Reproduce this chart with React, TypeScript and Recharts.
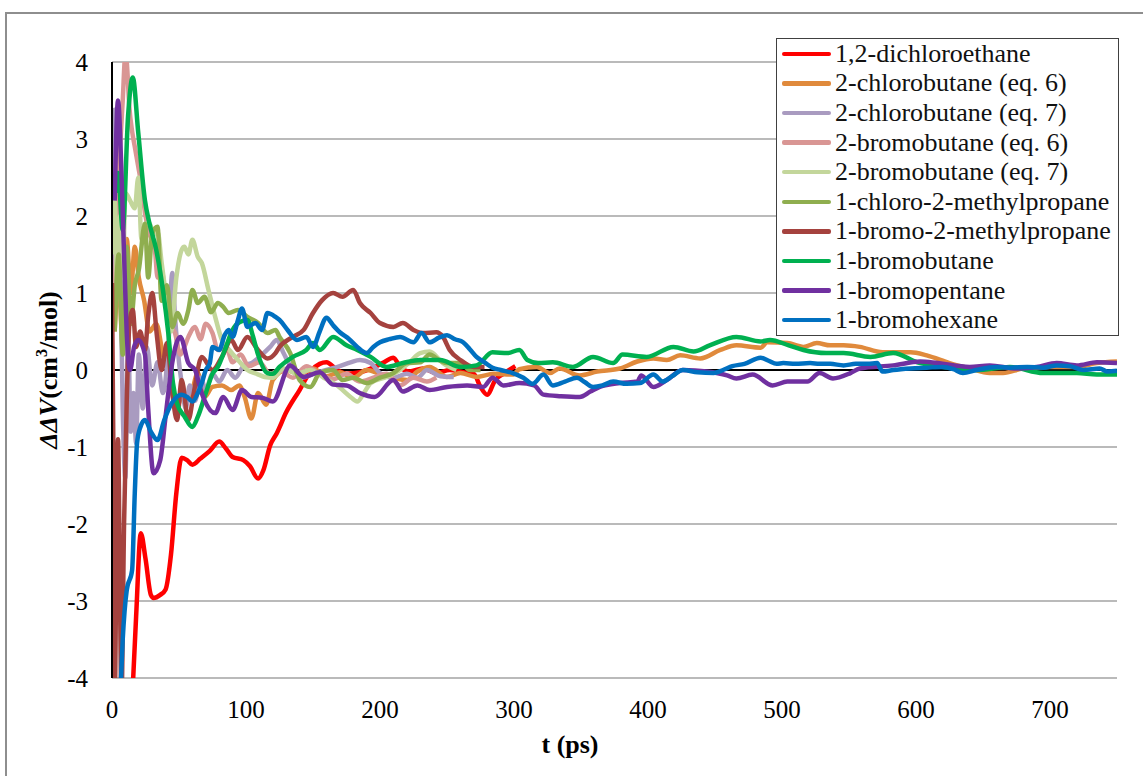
import { LineChart, Line, XAxis, YAxis, CartesianGrid, ReferenceLine, Legend } from "recharts"

// axis ticks
const xTicks = [0, 100, 200, 300, 400, 500, 600, 700]
const yTicks = [-4, -3, -2, -1, 0, 1, 2, 3, 4]

// [t (ps), ΔΔV (cm3/mol)]
const dichloroethane = [
  [15, -4.3], [18, -3.2], [21.5, -2.12], [25, -2.45], [29, -2.92], [31, -2.96], [36, -2.92], [40, -2.85],
  [44, -2.4], [48, -1.6], [52, -1.14], [56, -1.17], [60, -1.23], [66, -1.15], [73, -1.05], [80, -0.93],
  [85, -1.02], [90, -1.13], [98, -1.17], [103, -1.25], [109, -1.41], [113, -1.3], [118, -0.98], [123, -0.82],
  [130, -0.55], [140, -0.26], [148, -0.02], [155, 0.08], [160, 0.1], [168, 0], [175, -0.05], [185, -0.03],
  [195, 0.03], [203, 0.1], [210, 0.16], [215, 0.04], [222, -0.02], [232, 0.02], [242, -0.04], [252, 0],
  [262, -0.03], [270, -0.05], [275, -0.22], [280, -0.32], [286, -0.13], [292, -0.05], [301, 0.05],
]

const chlorobutaneEq6 = [
  [2, 0.5], [5, 1.2], [8, 0.3], [11, 1.7], [14, 1.0], [17, 1.6], [20, 1.2], [24, 0.9], [28, 0.5], [33, 0.6],
  [38, 0.2], [43, -0.1], [48, -0.5], [53, -0.3], [58, -0.35], [64, -0.04], [69, -0.35], [75, -0.22], [82, -0.2],
  [89, -0.26], [95, -0.2], [99, -0.35], [104, -0.63], [109, -0.3], [115, -0.45], [120, -0.13], [130, 0],
  [140, -0.05], [150, 0.02], [160, -0.08], [170, -0.03], [180, -0.1], [190, 0], [200, -0.05], [210, -0.1],
  [220, -0.13], [228, -0.02], [237, 0.04], [250, -0.09], [260, -0.04], [272, -0.09], [285, -0.05], [299, -0.06],
  [304, 0.01], [317, 0.04], [327, -0.04], [334, 0.02], [349, -0.07], [362, -0.02], [379, 0.02], [392, 0.11],
  [404, 0.15], [414, 0.13], [424, 0.19], [439, 0.15], [454, 0.26], [466, 0.32], [484, 0.29], [489, 0.36],
  [504, 0.35], [516, 0.3], [526, 0.35], [536, 0.32], [546, 0.32], [558, 0.3], [575, 0.23], [596, 0.23],
  [608, 0.19], [625, 0.09], [640, 0.02], [655, -0.04], [665, -0.04], [680, 0.02], [700, 0.04], [720, 0.04],
  [735, 0.09], [750, 0.11],
]

const chlorobutaneEq7 = [
  [0, 0.5], [2, 3.38], [4, 2.5], [6, 1.56], [8, -0.5], [10, -1.4], [12, 0.5], [14, -0.8], [16, -0.3], [18, -0.95],
  [20, 0.2], [23, -0.5], [26, 0.3], [30, -0.2], [34, 0.1], [38, -0.3], [42, 0.3], [45, 1.26], [47, 0.69], [50, 0.1],
  [52, -0.17], [55, -0.5], [58, -0.2], [62, -0.4], [66, -0.1], [70, -0.25], [75, -0.05], [80, -0.15], [86, 0],
  [92, -0.1], [98, 0.05], [105, 0.1], [112, 0.2], [118, 0.3], [123, 0.39], [128, 0.22], [135, 0], [142, -0.1],
  [150, -0.05], [160, 0], [170, 0.05], [178, 0.1], [185, 0.13], [193, 0.09], [200, -0.04], [210, -0.1],
  [220, -0.05], [228, -0.1], [235, 0], [245, -0.08], [255, -0.09],
]

const bromobutaneEq6 = [
  [2, 1.0], [5, 2.5], [8, 3.5], [10, 4.1], [11, 4.0], [13, 3.4], [15, 3.1], [17, 2.9], [19.6, 2.64], [22, 2.4],
  [25, 2.0], [28, 1.77], [32, 1.56], [34, 1.2], [37, 1.3], [40, 0.9], [43, 0.6], [47, 0.48], [51, 0.2], [54, 0.3],
  [57, 0.43], [62, 0.56], [66, 0.4], [70, 0.6], [75, 0.48], [79, 0.26], [85, 0.3], [90, 0.1], [96, 0.2],
  [102, 0.05], [110, 0.1], [118, -0.05], [125, 0], [135, -0.1], [145, 0.05], [155, -0.05], [165, -0.12],
  [175, -0.05], [185, -0.15], [195, -0.1], [205, -0.05], [215, -0.2], [225, -0.1], [235, -0.15], [242, -0.1],
]

const bromobutaneEq7 = [
  [0, 1.5], [2, 2.2], [4, 1.0], [6, 2.0], [8, 1.2], [10, 2.3], [13.5, 2.2], [17, 2.1], [19.6, 2.5], [22, 1.7],
  [24.6, 1.9], [28, 1.9], [31, 1.75], [34, 1.8], [37, 1.4], [40, 1.0], [44, 0.5], [48, 1.2], [52, 1.56],
  [54, 1.6], [57, 1.5], [60, 1.69], [64, 1.47], [67, 1.39], [72, 1.04], [77, 0.69], [82, 0.39], [88, 0.25],
  [94, 0.13], [101, 0], [108, -0.05], [114, -0.09], [120, -0.1], [128, 0.02], [138, -0.05], [148, 0],
  [158, -0.1], [168, -0.2], [178, -0.35], [183, -0.41], [188, -0.3], [193, -0.17], [205, -0.09], [215, 0],
  [222, 0.1], [230, 0.22], [237, 0.24], [247, 0.09], [257, 0],
]

const chloroMethylpropane = [
  [2, 0.5], [5, 1.5], [8, 0.2], [11, 1.6], [14, 0.6], [17, 1.1], [20, 1.3], [24.6, 1.9], [27, 1.2], [30, 1.77],
  [34, 1.86], [37, 0.9], [41, 1.1], [45, 0.56], [49, 0.74], [53, 0.6], [57, 0.78], [60, 1.04], [64, 0.87],
  [69, 0.95], [74, 0.75], [79, 0.87], [83, 0.82], [87, 0.74], [94, 0.78], [101, 0.69], [109, 0.61], [116, 0.48],
  [122, 0.52], [125, 0.43], [133, 0.22], [140, -0.13], [148, -0.22], [155, -0.04], [165, 0], [172, -0.13],
  [180, -0.1], [190, -0.17], [200, -0.1], [210, -0.04], [220, 0.09], [230, 0.1], [237, 0.2], [245, 0.12],
  [250, 0.09], [260, 0.09], [267, 0], [275, 0],
]

const bromoMethylpropane = [
  [0, 1.13], [1, -1], [2, -4.3], [3.5, -2], [4.5, -0.9], [6, -3], [7, -4.3], [9, -2], [11, -0.4], [13, 0.6],
  [15.5, 0.78], [18, 0.3], [21, 0.5], [24.6, 0.26], [27, 0.7], [30, 1.0], [33.6, 0.43], [37, 0], [41, 0.35],
  [45, -0.3], [48.5, -0.65], [52, -0.13], [57, -0.65], [61, -0.3], [67, 0.17], [75, 0], [82, 0.17], [89, 0.39],
  [94, 0.26], [101, 0.43], [109, 0.26], [116, 0.15], [122, 0.22], [125, 0.3], [135, 0.43], [143, 0.52],
  [150, 0.74], [157, 0.91], [165, 1.0], [172, 0.95], [180, 1.04], [185, 0.87], [193, 0.74], [200, 0.61],
  [210, 0.56], [217, 0.61], [225, 0.52], [232, 0.48], [242, 0.49], [247, 0.43], [252, 0.26], [260, 0.13],
  [270, 0.04], [278, 0.04],
]

const bromobutane = [
  [3, 2.3], [4.5, 2.56], [8, 1.82], [12, 3.3], [15.5, 3.8], [19.6, 3.08], [24.6, 2.2], [28, 1.9], [33, 1.56],
  [38, 1.04], [42, 0.48], [45.5, -0.17], [48.5, -0.43], [54, -0.6], [60, -0.74], [64, -0.61], [70, -0.3],
  [75, -0.05], [79, 0.04], [84, 0.25], [90, 0.52], [95, 0.62], [101, 0.65], [105, 0.45], [109, 0.2],
  [116, -0.04], [120, -0.05], [125, 0.04], [135, 0.17], [145, 0.26], [150, 0.35], [155, 0.26], [165, 0.43],
  [175, 0.32], [183, 0.26], [193, 0.17], [205, 0.04], [217, 0.09], [230, 0.13], [245, 0.13], [260, 0.04],
  [272, 0.06], [284, 0.23], [295, 0.22], [304, 0.26], [310, 0.13], [318, 0.09], [329, 0.1], [344, 0.04],
  [359, 0.17], [374, 0.09], [381, 0.2], [399, 0.17], [419, 0.3], [434, 0.24], [446, 0.32], [466, 0.43],
  [484, 0.37], [491, 0.39], [505, 0.32], [516, 0.26], [533, 0.22], [546, 0.22], [566, 0.17], [583, 0.22],
  [601, 0.1], [620, 0.04], [645, 0], [670, 0.04], [695, -0.04], [720, -0.04], [735, -0.06], [750, -0.06],
]

const bromopentane = [
  [2, 2.2], [4.5, 3.5], [7, 2.6], [9, 1.5], [11, 0.48], [13.5, 0], [16.5, 0.3], [19.6, 0.39], [24.6, 0.2],
  [27, -0.5], [31, -1.34], [36, -1.17], [40, -0.6], [45, 0.1], [51, 0.43], [57, 0.09], [62, 0], [66, -0.25],
  [69, -0.39], [77, -0.56], [83, -0.35], [90, -0.52], [97, -0.26], [104, -0.35], [112, -0.36], [120, -0.41],
  [133, 0.06], [143, -0.09], [155, -0.03], [165, -0.19], [175, -0.2], [185, -0.3], [196, -0.35], [210, -0.13],
  [217, -0.28], [228, -0.2], [237, -0.26], [250, -0.22], [265, -0.2], [277, -0.22], [284, -0.1], [292, -0.2],
  [304, -0.17], [315, -0.2], [322, -0.32], [335, -0.34], [349, -0.35], [357, -0.28], [364, -0.22], [379, -0.17],
  [392, -0.15], [395, -0.07], [404, -0.22], [414, -0.13], [426, 0], [444, -0.02], [459, -0.07], [466, -0.11],
  [478, -0.06], [493, -0.2], [504, -0.15], [519, -0.15], [528, -0.04], [538, -0.11], [551, -0.04], [558, 0.02],
  [583, 0.06], [603, 0.11], [616, 0.09], [640, 0.04], [655, 0.06], [675, 0.02], [690, 0.04], [705, 0.09],
  [720, 0.06], [735, 0.1], [750, 0.09],
]

const bromohexane = [
  [6, -4.3], [8, -3.5], [11, -2.86], [15, -2.6], [17, -1.6], [18.7, -0.95], [21, -0.75], [24.6, -0.65],
  [29, -0.8], [34, -0.91], [39, -0.65], [44.6, -0.43], [52, -0.32], [56, -0.35], [60, -0.41], [64, -0.3],
  [67, -0.17], [70, 0], [73, 0.09], [75, 0.3], [80, 0.26], [84, 0.45], [87, 0.52], [90, 0.43], [94, 0.65],
  [97, 0.8], [101, 0.56], [107, 0.61], [112, 0.52], [116, 0.74], [122, 0.69], [125, 0.65], [131, 0.52],
  [138, 0.39], [145, 0.43], [150, 0.3], [155, 0.5], [160, 0.68], [165, 0.58], [170, 0.49], [177, 0.4],
  [183, 0.3], [190, 0.22], [195, 0.3], [200, 0.36], [207, 0.4], [215, 0.43], [225, 0.36], [231, 0.48],
  [237, 0.36], [244, 0.42], [250, 0.45], [256, 0.4], [262, 0.36], [267, 0.27], [272, 0.17], [278, 0.1],
  [284, 0.03], [290, 0], [299, -0.04], [307, -0.1], [314, -0.18], [322, -0.06], [329, -0.2], [338, -0.15],
  [347, -0.1], [353, -0.16], [359, -0.22], [366, -0.2], [374, -0.15], [384, -0.18], [394, -0.17], [404, -0.06],
  [411, -0.15], [418, -0.08], [426, 0], [437, -0.03], [449, -0.04], [456, 0], [463, 0.05], [472, 0.08],
  [484, 0.16], [490, 0.12], [496, 0.08], [501, 0.09], [510, 0.08], [521, 0.09], [528, 0.08], [536, 0.08],
  [546, 0.06], [555, 0.08], [564, 0.08], [571, 0.09], [575, -0.02], [583, 0], [596, 0.02], [608, 0.03],
  [620, 0.04], [628, 0.01], [635, -0.04], [645, 0], [660, 0.04], [670, 0.03], [683, 0.04], [695, 0.03],
  [705, 0.06], [715, 0.05], [725, 0], [737, 0.02], [743, -0.02], [750, -0.01],
]

const seriesNames = [
  "1,2-dichloroethane",
  "2-chlorobutane (eq. 6)",
  "2-chlorobutane (eq. 7)",
  "2-bromobutane (eq. 6)",
  "2-bromobutane (eq. 7)",
  "1-chloro-2-methylpropane",
  "1-bromo-2-methylpropane",
  "1-bromobutane",
  "1-bromopentane",
  "1-bromohexane",
]

const seriesColors = [
  "#ff0000", "#e08a3c", "#a99bc0", "#d99694", "#c3d69b",
  "#8fae4f", "#a5423e", "#00b050", "#7030a0", "#0070c0",
]

const seriesValues = [
  dichloroethane, chlorobutaneEq6, chlorobutaneEq7, bromobutaneEq6, bromobutaneEq7,
  chloroMethylpropane, bromoMethylpropane, bromobutane, bromopentane, bromohexane,
]

const SERIF = '"Liberation Serif", "Times New Roman", serif'

function LegendBox() {
  return (
    <div
      style={{
        boxSizing: "border-box",
        width: 343,
        height: 298,
        border: "1.5px solid #404040",
        background: "#fff",
        fontFamily: SERIF,
        fontSize: 26,
        color: "#111",
      }}
    >
      {seriesNames.map((name, i) => (
        <div key={name} style={{ display: "flex", alignItems: "center", height: 29.6, whiteSpace: "nowrap" }}>
          <span
            style={{
              display: "inline-block",
              width: 49,
              height: 4.5,
              marginLeft: 5,
              marginRight: 4,
              borderRadius: 2,
              background: seriesColors[i],
            }}
          />
          <span>{name}</span>
        </div>
      ))}
    </div>
  )
}

export default function App() {
  const series = seriesValues.map((pts, i) => ({
    name: seriesNames[i],
    color: seriesColors[i],
    data: pts.map(([t, v]) => ({ t, v })),
  }))

  const tickStyle = { fontSize: 25, fill: "#000", fontFamily: SERIF }

  return (
    <div
      style={{
        position: "absolute",
        left: 0,
        top: 0,
        width: 1143,
        height: 776,
        overflow: "hidden",
        background: "#fff",
      }}
    >
      <div
        style={{
          position: "absolute",
          left: 5,
          top: 12,
          width: 1300,
          height: 900,
          border: "2px solid #8e8e8e",
        }}
      />
      <div style={{ position: "absolute", left: 0, top: 0 }}>
        <LineChart width={1143} height={776} margin={{ top: 62, right: 26, bottom: 0, left: 12 }}>
          <CartesianGrid vertical={false} stroke="#a3a3a3" strokeWidth={1.5} />
          <XAxis
            type="number"
            dataKey="t"
            domain={[0, 750]}
            ticks={xTicks}
            allowDataOverflow
            axisLine={false}
            tickLine={false}
            tickSize={0}
            tickMargin={22}
            height={98}
            interval={0}
            tick={tickStyle}
          />
          <YAxis
            type="number"
            domain={[-4, 4]}
            ticks={yTicks}
            allowDataOverflow
            width={100}
            axisLine={{ stroke: "#000", strokeWidth: 2 }}
            tickLine={false}
            tickSize={0}
            tickMargin={24}
            interval={0}
            tick={tickStyle}
          />
          <ReferenceLine y={0} stroke="#000" strokeWidth={2} />
          {series.map((s) => (
            <Line
              key={s.name}
              name={s.name}
              data={s.data}
              dataKey="v"
              type="monotone"
              stroke={s.color}
              strokeWidth={4.5}
              dot={false}
              activeDot={false}
              isAnimationActive={false}
            />
          ))}
          <Legend
            layout="vertical"
            align="center"
            verticalAlign="middle"
            wrapperStyle={{ left: 776, top: 38, width: 343, height: 298 }}
            content={() => <LegendBox />}
          />
        </LineChart>
      </div>
      <svg
        width={1143}
        height={776}
        style={{ position: "absolute", left: 0, top: 0, pointerEvents: "none" }}
        fontFamily={SERIF}
      >
        <text x={570} y={753} textAnchor="middle" fontSize={26} fontWeight="bold" fill="#000">
          t (ps)
        </text>
        <text
          x={57}
          y={370}
          textAnchor="middle"
          fontSize={26}
          fontWeight="bold"
          fill="#000"
          transform="rotate(-90 57 370)"
        >
          <tspan fontStyle="italic">ΔΔV</tspan>
          <tspan>(cm</tspan>
          <tspan fontSize={16} dy={-10}>3</tspan>
          <tspan dy={10}>/mol)</tspan>
        </text>
      </svg>
    </div>
  )
}
